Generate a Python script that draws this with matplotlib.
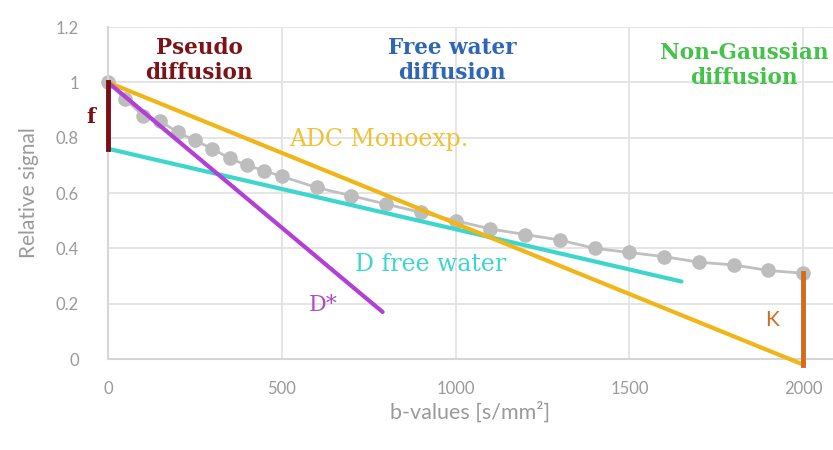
import matplotlib
matplotlib.use("Agg")
import matplotlib.pyplot as plt

# Measured signal decay
b_values = [0, 50, 100, 150, 200, 250, 300, 350, 400, 450, 500,
            600, 700, 800, 900, 1000, 1100, 1200, 1300, 1400, 1500,
            1600, 1700, 1800, 1900, 2000]
signal = [1.00, 0.94, 0.88, 0.86, 0.82, 0.79, 0.76, 0.725, 0.70, 0.68, 0.66,
          0.62, 0.59, 0.56, 0.53, 0.50, 0.47, 0.45, 0.43, 0.40, 0.385,
          0.37, 0.35, 0.34, 0.32, 0.31]

# Model fits (end points of straight segments)
adc_b = [0, 2000]
adc_s = [1.00, -0.02]
dfree_b = [0, 1650]
dfree_s = [0.76, 0.28]
dstar_b = [0, 790]
dstar_s = [1.00, 0.17]
f_b = [0, 0]
f_s = [1.00, 0.76]
k_b = [2000, 2000]
k_s = [-0.02, 0.31]

x_ticks = [0, 500, 1000, 1500, 2000]
y_ticks = [0, 0.2, 0.4, 0.6, 0.8, 1.0, 1.2]
y_tick_labels = ["0", "0.2", "0.4", "0.6", "0.8", "1", "1.2"]

fig = plt.figure(figsize=(8.33, 4.5), dpi=100)
ax = fig.add_axes([0.1297, 0.2022, 0.8703, 0.7378])

ax.set_xlim(0, 2086)
ax.set_ylim(0, 1.2)

grid_c = "#e3e3e3"
ax.set_xticks(x_ticks)
ax.set_yticks(y_ticks)
ax.set_yticklabels(y_tick_labels)
ax.grid(True, color=grid_c, linewidth=1.3)
ax.set_axisbelow(True)
for side in ["top", "right"]:
    ax.spines[side].set_visible(False)
for side in ["left", "bottom"]:
    ax.spines[side].set_color("#d6d6d6")
    ax.spines[side].set_linewidth(1.5)
ax.tick_params(length=0, labelsize=12, colors="#9a9a9a")
ax.tick_params(axis="x", pad=16)
ax.tick_params(axis="y", pad=21)
for lab in ax.get_xticklabels() + ax.get_yticklabels():
    lab.set_family("Lato")

ax.set_xlabel("b-values [s/mm²]", fontsize=15.5, color="#9a9a9a",
              family=["Lato", "DejaVu Sans"], labelpad=3)
ax.set_ylabel("Relative signal", fontsize=15, color="#9a9a9a",
              family="Lato", labelpad=12)

# Data
ax.plot(b_values, signal, color="#c0c0c0", linewidth=2, marker="o",
        markersize=9.5, markerfacecolor="#bdbdbd", markeredgecolor="#bdbdbd",
        zorder=2, clip_on=False)

# Fits
ax.plot(dfree_b, dfree_s, color="#3dd6cc", linewidth=3, zorder=3,
        solid_capstyle="round")
ax.plot(adc_b, adc_s, color="#f0b618", linewidth=3, zorder=4,
        clip_on=False, solid_capstyle="round")
ax.plot(dstar_b, dstar_s, color="#b23fd6", linewidth=3, zorder=5,
        solid_capstyle="round")
ax.plot(f_b, f_s, color="#7a0f14", linewidth=3.5, zorder=6, clip_on=False)
ax.plot(k_b, k_s, color="#d36b1e", linewidth=3.5, zorder=6, clip_on=False)

serif = ["DejaVu Serif"]
ax.text(262, 1.08, "Pseudo\ndiffusion", color="#7a1418", fontsize=15.5,
        fontweight="bold", family=serif, ha="center", va="center",
        linespacing=1.2)
ax.text(990, 1.08, "Free water\ndiffusion", color="#2f66b3", fontsize=15.5,
        fontweight="bold", family=serif, ha="center", va="center",
        linespacing=1.2)
ax.text(1830, 1.06, "Non-Gaussian\ndiffusion", color="#45c24a", fontsize=15.5,
        fontweight="bold", family=serif, ha="center", va="center",
        linespacing=1.2)

ax.text(-50, 0.875, "f", color="#7a0f14", fontsize=15, fontweight="bold",
        family=serif, ha="center", va="center")
ax.text(520, 0.795, "ADC Monoexp.", color="#efc135", fontsize=17,
        family=serif, ha="left", va="center")
ax.text(712, 0.34, "D free water", color="#3dd6cc", fontsize=17,
        family=serif, ha="left", va="center")
ax.text(620, 0.195, "D*", color="#b04cc8", fontsize=16,
        family=serif, ha="center", va="center")
ax.text(1910, 0.14, "K", color="#d36b1e", fontsize=15,
        family="Lato", ha="center", va="center")

fig.savefig("out.png", dpi=100)
